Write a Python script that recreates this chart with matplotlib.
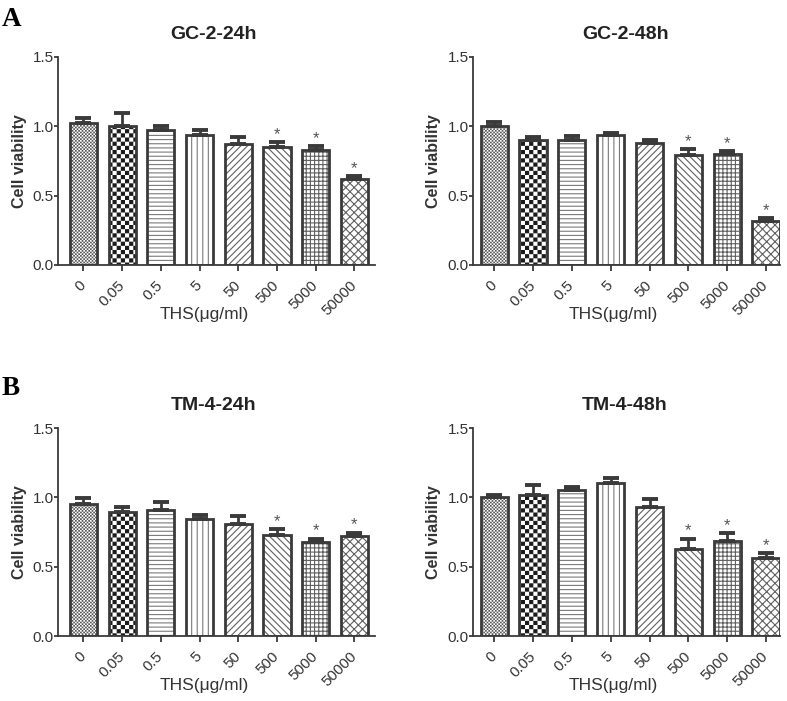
import numpy as np
import matplotlib
matplotlib.use("Agg")
import matplotlib.pyplot as plt
import matplotlib.hatch as mhatch
from matplotlib.path import Path

# ---------------- data ----------------
doses = ["0", "0.05", "0.5", "5", "50", "500", "5000", "50000"]
titles = ["GC-2-24h", "GC-2-48h", "TM-4-24h", "TM-4-48h"]

gc2_24_mean = [1.025, 1.000, 0.977, 0.936, 0.871, 0.850, 0.828, 0.617]
gc2_24_err = [0.038, 0.097, 0.026, 0.036, 0.053, 0.038, 0.029, 0.026]

gc2_48_mean = [1.003, 0.905, 0.898, 0.936, 0.881, 0.792, 0.797, 0.319]
gc2_48_err = [0.029, 0.015, 0.031, 0.019, 0.024, 0.043, 0.024, 0.019]

tm4_24_mean = [0.954, 0.893, 0.907, 0.843, 0.811, 0.725, 0.677, 0.718]
tm4_24_err = [0.040, 0.036, 0.056, 0.026, 0.051, 0.048, 0.026, 0.028]

tm4_48_mean = [1.002, 1.018, 1.052, 1.100, 0.927, 0.628, 0.684, 0.561]
tm4_48_err = [0.014, 0.073, 0.022, 0.037, 0.060, 0.075, 0.058, 0.034]

significant = [False, False, False, False, False, True, True, True]

# ---------------- style ----------------
HATCH_LW = 0.8
plt.rcParams["font.family"] = ["Liberation Sans", "DejaVu Sans"]
plt.rcParams["hatch.linewidth"] = HATCH_LW


class CheckerHatch(mhatch.HatchPatternBase):
    """Checkerboard of filled squares; triggered by 'O'."""

    def __init__(self, hatch, density):
        self.n = int(hatch.count("O") * density)
        self.num_vertices = 2 * self.n * self.n * 5 if self.n else 0

    def set_vertices_and_codes(self, vertices, codes):
        n = self.n
        p = 1.0 / n
        s = max(p / 2 - HATCH_LW / 72.0, 0.0015)
        ii, jj = np.meshgrid(np.arange(n), np.arange(n))
        c1 = np.stack([(ii + 0.25) * p, (jj + 0.25) * p], -1).reshape(-1, 2)
        c2 = c1 + p / 2
        centers = np.vstack([c1, c2])
        h = s / 2
        sq = np.array([[-h, -h], [h, -h], [h, h], [-h, h], [-h, -h]])
        vertices[:] = (centers[:, None, :] + sq[None, :, :]).reshape(-1, 2)
        cd = np.array([Path.MOVETO, Path.LINETO, Path.LINETO, Path.LINETO,
                       Path.CLOSEPOLY], dtype=Path.code_type)
        codes[:] = np.tile(cd, len(centers))


mhatch._hatch_types = [t for t in mhatch._hatch_types
                       if t is not mhatch.LargeCircles] + [CheckerHatch]

hatches = ["OOOOO", "OO", "----", "|||", "/////", "\\\\\\\\\\", "++++", "xxxx"]
hatch_colors = ["#5a5a5a", "#1a1a1a", "#7a7a7a", "#7a7a7a", "#606060",
                "#606060", "#606060", "#606060"]
EDGE = "#3a3a3a"
TXT = "#333333"

W, H = 787, 701
fig = plt.figure(figsize=(W / 100, H / 100), dpi=100)


def ax_rect(x0, x1, top, bottom):
    return [x0 / W, 1 - bottom / H, (x1 - x0) / W, (bottom - top) / H]


rects = [ax_rect(58.3, 375, 57, 265), ax_rect(473.3, 780, 57, 265),
         ax_rect(58.3, 375, 428, 636), ax_rect(473.3, 780, 428, 636)]
xlims = [(-0.646, 7.53), (-0.54, 7.36), (-0.646, 7.53), (-0.54, 7.36)]
ylab_x = [-0.098, -0.105, -0.098, -0.105]
xlab_x = [0.46, 0.455, 0.46, 0.455]
title_x = [0.49, 0.495, 0.49, 0.495]
means = [gc2_24_mean, gc2_48_mean, tm4_24_mean, tm4_48_mean]
errs = [gc2_24_err, gc2_48_err, tm4_24_err, tm4_48_err]

for k in range(4):
    ax = fig.add_axes(rects[k])
    x = np.arange(len(doses))
    m = np.array(means[k])
    e = np.array(errs[k])
    bw = 0.70
    # hatched fill layer
    fill_bars = ax.bar(x, m, bw, color="white", edgecolor=hatch_colors,
                       linewidth=0, zorder=2)
    for b, h in zip(fill_bars, hatches):
        b.set_hatch(h)
    # error bars (upward only)
    ax.errorbar(x, m, yerr=[np.zeros_like(e), e], fmt="none", ecolor=EDGE,
                elinewidth=2.0, capsize=6, capthick=2.8, zorder=3)
    # outline layer
    ax.bar(x, m, bw, fill=False, edgecolor=EDGE, linewidth=2.0, zorder=4)
    for xi, mi, ei, sig in zip(x, m, e, significant):
        if sig:
            ax.annotate("*", xy=(xi, mi + ei), xytext=(0, 0),
                        textcoords="offset points", ha="center", va="bottom",
                        fontsize=12, color="#555555", zorder=5)

    ax.set_xlim(*xlims[k])
    ax.set_ylim(0, 1.5)
    ax.set_yticks([0.0, 0.5, 1.0, 1.5])
    ax.set_yticklabels(["0.0", "0.5", "1.0", "1.5"])
    ax.set_xticks(x)
    ax.set_xticklabels(doses, rotation=45, ha="right", va="center",
                       rotation_mode="anchor")
    for sp in ["top", "right"]:
        ax.spines[sp].set_visible(False)
    for sp in ["left", "bottom"]:
        ax.spines[sp].set_linewidth(1.3)
        ax.spines[sp].set_color(EDGE)
    ax.tick_params(axis="y", length=3, width=1.3, pad=0.3, labelsize=11,
                   colors=EDGE, labelcolor=TXT)
    ax.tick_params(axis="x", length=4.3, width=1.3, pad=9, labelsize=11,
                   colors=EDGE, labelcolor=TXT)
    ax.set_title(titles[k], fontsize=14, fontweight="bold", color="#222222",
                 pad=13, x=title_x[k])
    ax.set_ylabel("Cell viability", fontsize=11.5, fontweight="bold",
                  color=TXT)
    ax.yaxis.set_label_coords(ylab_x[k], 0.5)
    ax.set_xlabel("THS(μg/ml)", fontsize=12.5, color=TXT)
    ax.xaxis.set_label_coords(xlab_x[k], -0.2)
    ax.xaxis.label.set_va("top")

fig.text(2 / W, 1 - 26 / H, "A", fontsize=19.5, fontweight="bold",
         family=["Liberation Serif", "DejaVu Serif"], va="baseline",
         ha="left", color="black")
fig.text(2 / W, 1 - 395 / H, "B", fontsize=19.5, fontweight="bold",
         family=["Liberation Serif", "DejaVu Serif"], va="baseline",
         ha="left", color="black")

fig.savefig("out.png", dpi=100, facecolor="white")
